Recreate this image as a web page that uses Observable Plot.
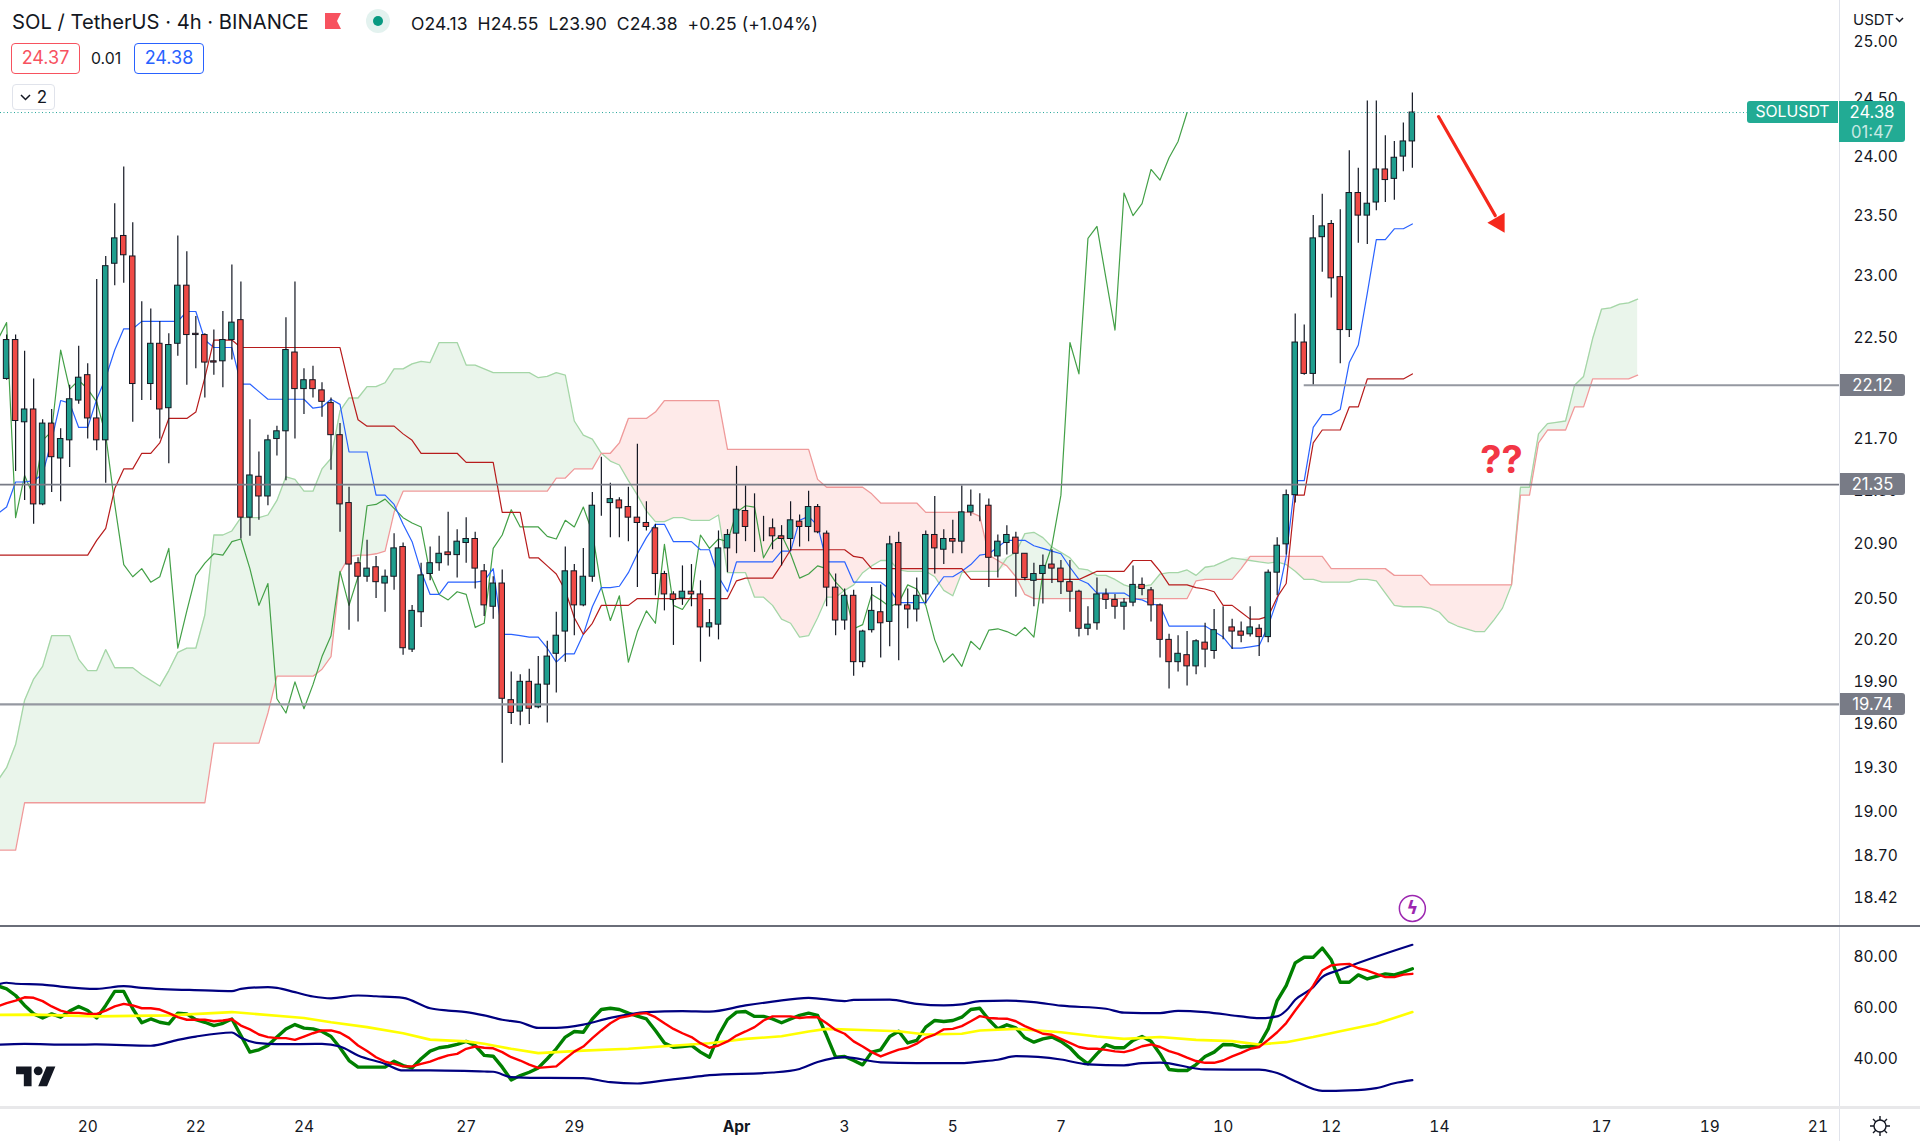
<!DOCTYPE html>
<html><head><meta charset="utf-8">
<script src="https://cdn.jsdelivr.net/npm/d3@7"></script>
<script src="https://cdn.jsdelivr.net/npm/@observablehq/plot@0.6"></script>
<style>
html,body{margin:0;padding:0;background:#fff}
#wrap{position:relative;width:1920px;height:1141px;overflow:hidden;background:#fff;font-family:Inter,Roboto,sans-serif;color:#131722}
#wrap svg.plot{position:absolute;left:0}
.h{position:absolute;white-space:nowrap}
.tag{position:absolute;left:1840px;width:65px;height:22px;line-height:22px;background:#787b86;color:#fff;text-align:center;font-size:16.6px;border-radius:0 3px 3px 0}
.box{position:absolute;box-sizing:border-box;border:1.5px solid;border-radius:4px;text-align:center;font-size:18px;background:#fff}
</style></head><body><div id="wrap"></div>
<script>
// 4h candles, bar 0 = 18 Mar 12:00 UTC
const opens=[22.17,22.48,21.83,21.93,21.20,21.82,21.55,21.69,22.00,22.20,
21.86,21.69,23.10,23.33,23.16,22.13,22.13,22.45,21.94,22.45,
22.92,22.53,22.52,22.31,22.31,22.48,22.64,21.10,21.41,21.26,
21.70,21.76,22.38,22.09,22.16,22.08,21.98,21.73,21.21,20.76,
20.66,20.73,20.61,20.66,20.88,20.13,20.40,20.68,20.76,20.84,
20.82,20.91,20.94,20.70,20.44,20.61,19.77,19.69,19.90,19.72,
19.88,20.10,20.26,20.70,20.45,20.66,21.20,21.21,21.23,21.18,
21.10,21.06,21.02,20.68,20.53,20.50,20.55,20.53,20.29,20.31,
20.87,20.98,21.15,21.03,21.03,21.02,20.96,20.94,21.07,21.03,
21.18,20.98,20.58,20.34,20.52,20.04,20.27,20.40,20.33,20.91,
20.45,20.42,20.53,20.97,20.86,20.94,20.92,21.14,21.18,21.19,
20.81,20.91,20.95,20.83,20.63,20.68,20.75,20.72,20.62,20.55,
20.28,20.32,20.53,20.49,20.44,20.47,20.60,20.56,20.45,20.20,
20.04,20.09,20.01,20.18,20.12,20.28,20.29,20.26,20.24,20.28,
20.22,20.69,20.90,21.27,22.46,22.21,23.32,23.43,22.99,22.56,
23.69,23.50,23.61,23.89,23.81,24.00,24.13];
const highs=[22.52,22.52,22.39,22.17,21.85,21.93,21.78,22.12,22.43,22.29,
22.97,23.16,23.60,23.91,23.44,22.79,22.73,22.63,22.53,23.33,
23.20,22.67,22.53,22.56,22.71,23.09,22.95,21.85,21.60,21.73,
21.80,22.66,22.95,22.25,22.27,22.14,22.02,21.82,21.33,20.80,
20.93,20.81,20.71,20.98,20.91,20.45,20.76,20.88,20.96,21.14,
21.01,21.10,20.99,20.75,20.66,20.71,19.97,19.95,19.99,20.08,
20.19,20.40,20.88,20.75,20.87,21.29,21.56,21.36,21.25,21.33,
21.66,21.22,21.05,20.70,20.55,20.74,20.75,20.63,20.42,21.00,
21.01,21.49,21.34,21.28,21.11,21.09,21.04,21.22,21.12,21.30,
21.20,21.00,20.68,20.57,20.56,20.27,20.58,20.60,20.96,20.99,
20.57,20.65,21.00,21.26,21.01,21.08,21.34,21.31,21.28,21.24,
20.97,21.04,20.99,20.83,20.76,20.82,20.86,20.78,20.78,20.56,
20.44,20.65,20.57,20.53,20.50,20.74,20.65,20.58,20.46,20.24,
20.23,20.26,20.20,20.32,20.42,20.44,20.35,20.33,20.44,20.31,
20.71,20.95,21.31,22.69,22.60,23.50,23.68,23.46,23.55,24.05,
23.90,24.48,24.48,24.18,24.13,24.29,24.55];
const lows=[22.16,21.45,21.23,21.05,21.19,21.29,21.22,21.48,21.97,21.70,
21.61,21.36,22.92,22.94,21.83,22.00,22.00,21.70,21.51,22.35,
22.12,22.25,22.02,22.20,22.10,22.32,20.94,20.96,21.08,21.19,
21.57,21.38,21.70,21.89,22.02,21.87,21.46,20.99,20.27,20.33,
20.62,20.50,20.40,20.56,20.09,20.11,20.29,20.63,20.70,20.74,
20.65,20.76,20.57,20.37,20.35,19.33,19.60,19.59,19.60,19.71,
19.61,19.82,20.04,20.23,20.44,20.62,21.11,20.95,20.95,20.92,
20.58,21.00,20.52,20.41,20.16,20.45,20.44,20.04,20.22,20.20,
20.69,20.83,20.92,20.84,20.92,20.86,20.74,20.85,20.88,20.92,
20.98,20.44,20.23,20.27,19.94,20.00,20.25,20.07,20.15,20.05,
20.28,20.33,20.46,20.68,20.75,20.83,20.83,21.11,21.07,20.58,
20.65,20.82,20.51,20.63,20.44,20.46,20.61,20.53,20.40,20.22,
20.23,20.27,20.42,20.35,20.27,20.44,20.52,20.33,20.07,19.85,
19.97,19.87,19.95,20.00,20.06,20.20,20.13,20.18,20.22,20.08,
20.18,20.52,20.82,21.21,22.20,22.12,23.03,22.82,22.29,22.50,
23.27,23.26,23.54,23.61,23.63,23.87,23.90];
const closes=[22.48,21.84,21.93,21.20,21.82,21.56,21.70,22.01,22.18,21.86,
21.69,23.08,23.31,23.17,22.13,22.13,22.45,21.93,22.44,22.92,
22.52,22.52,22.30,22.30,22.48,22.62,21.10,21.42,21.26,21.69,
21.76,22.40,22.09,22.16,22.09,21.99,21.73,21.20,20.75,20.66,
20.72,20.62,20.66,20.87,20.14,20.41,20.67,20.76,20.83,20.82,
20.92,20.94,20.72,20.45,20.61,19.78,19.68,19.90,19.71,19.88,
20.08,20.23,20.70,20.45,20.66,21.19,21.20,21.24,21.17,21.10,
21.06,21.03,20.68,20.53,20.49,20.55,20.53,20.29,20.32,20.87,
20.97,21.16,21.03,21.03,21.03,20.96,20.94,21.08,21.03,21.18,
20.99,20.58,20.34,20.52,20.04,20.26,20.41,20.32,20.90,20.45,
20.42,20.52,20.97,20.87,20.94,20.92,21.14,21.19,21.18,20.80,
20.92,20.97,20.83,20.65,20.68,20.74,20.72,20.62,20.55,20.28,
20.31,20.53,20.49,20.44,20.47,20.60,20.57,20.45,20.20,20.04,
20.10,20.01,20.19,20.13,20.27,20.28,20.26,20.23,20.29,20.22,
20.69,20.89,21.27,22.46,22.21,23.31,23.41,22.98,22.56,23.69,
23.50,23.60,23.89,23.80,23.99,24.13,24.38];

// Ichimoku: every series starts at bar -1 (just off the left edge)
const conversion=[21.13,
21.18,21.37,21.37,21.38,21.43,21.69,22.00,21.98,21.79,21.79,
22.01,22.18,22.40,22.57,22.57,22.63,22.63,22.63,22.63,22.63,
22.71,22.71,22.48,22.42,22.42,22.42,22.13,22.13,22.07,22.01,
22.01,22.01,22.01,22.01,21.94,21.95,22.01,21.97,21.60,21.60,
21.60,21.27,21.27,21.20,21.05,20.92,20.70,20.53,20.53,20.62,
20.62,20.62,20.62,20.63,20.72,20.24,20.24,20.23,20.22,20.22,
20.14,20.04,20.10,20.10,20.24,20.44,20.58,20.58,20.59,20.69,
20.83,20.95,21.05,21.05,20.92,20.92,20.92,20.86,20.86,20.66,
20.55,20.77,20.77,20.77,20.77,20.77,20.85,20.85,21.08,21.11,
21.04,20.77,20.77,20.77,20.62,20.62,20.62,20.62,20.57,20.47,
20.47,20.47,20.47,20.57,20.66,20.66,20.70,20.75,20.82,20.83,
20.88,20.93,20.93,20.93,20.89,20.87,20.85,20.83,20.73,20.64,
20.61,20.54,20.54,20.54,20.54,20.50,20.49,20.46,20.45,20.30,
20.30,20.30,20.30,20.30,20.26,20.22,20.14,20.14,20.15,20.16,
20.30,20.49,20.81,21.38,21.38,21.79,21.89,21.89,21.93,22.30,
22.44,22.86,23.30,23.30,23.39,23.39,23.43];
const base=[20.82,
20.82,20.82,20.82,20.82,20.82,20.82,20.82,20.82,20.82,20.82,
20.93,21.02,21.32,21.47,21.47,21.59,21.59,21.67,21.86,21.86,
21.86,21.91,22.18,22.48,22.48,22.48,22.42,22.42,22.42,22.42,
22.42,22.42,22.42,22.42,22.42,22.42,22.42,22.42,22.12,21.85,
21.80,21.80,21.80,21.80,21.74,21.69,21.59,21.59,21.59,21.59,
21.59,21.52,21.52,21.52,21.52,21.14,21.14,21.14,20.80,20.80,
20.74,20.68,20.56,20.36,20.24,20.32,20.45,20.45,20.45,20.45,
20.50,20.50,20.50,20.50,20.50,20.50,20.50,20.50,20.50,20.50,
20.50,20.63,20.65,20.65,20.65,20.65,20.75,20.86,20.86,20.86,
20.86,20.86,20.86,20.86,20.81,20.80,20.72,20.72,20.72,20.72,
20.72,20.72,20.72,20.72,20.72,20.72,20.72,20.64,20.64,20.64,
20.64,20.64,20.64,20.64,20.64,20.64,20.64,20.64,20.64,20.64,
20.67,20.70,20.70,20.70,20.70,20.78,20.78,20.78,20.70,20.60,
20.60,20.60,20.58,20.57,20.55,20.45,20.45,20.40,20.35,20.35,
20.37,20.51,20.61,21.27,21.27,21.67,21.77,21.77,21.77,21.95,
21.95,22.17,22.17,22.17,22.17,22.17,22.21];
const lagging=[22.48,
22.62,21.10,21.42,21.26,21.69,21.76,22.40,22.09,22.16,22.09,
21.99,21.73,21.20,20.75,20.66,20.72,20.62,20.66,20.87,20.14,
20.41,20.67,20.76,20.83,20.82,20.92,20.94,20.72,20.45,20.61,
19.78,19.68,19.90,19.71,19.88,20.08,20.23,20.70,20.45,20.66,
21.19,21.20,21.24,21.17,21.10,21.06,21.03,20.68,20.53,20.49,
20.55,20.53,20.29,20.32,20.87,20.97,21.16,21.03,21.03,21.03,
20.96,20.94,21.08,21.03,21.18,20.99,20.58,20.34,20.52,20.04,
20.26,20.41,20.32,20.90,20.45,20.42,20.52,20.97,20.87,20.94,
20.92,21.14,21.19,21.18,20.80,20.92,20.97,20.83,20.65,20.68,
20.74,20.72,20.62,20.55,20.28,20.31,20.53,20.49,20.44,20.47,
20.60,20.57,20.45,20.20,20.04,20.10,20.01,20.19,20.13,20.27,
20.28,20.26,20.23,20.29,20.22,20.69,20.89,21.27,22.46,22.21,
23.31,23.41,22.98,22.56,23.69,23.50,23.60,23.89,23.80,23.99,
24.13,24.38];
const spanA=[19.21,
19.30,19.46,19.77,19.92,20.01,20.23,20.23,20.23,20.06,19.98,
19.98,20.13,20.00,20.00,20.00,19.95,19.91,19.87,19.98,20.11,
20.14,20.14,20.38,20.97,20.97,21.00,21.10,21.10,21.10,21.12,
21.23,21.41,21.39,21.30,21.30,21.47,21.55,21.92,22.02,22.02,
22.11,22.11,22.14,22.25,22.25,22.29,22.31,22.30,22.46,22.46,
22.46,22.28,22.28,22.25,22.22,22.22,22.22,22.22,22.22,22.18,
22.19,22.22,22.20,21.84,21.73,21.70,21.59,21.53,21.50,21.38,
21.27,21.15,21.07,21.07,21.10,21.10,21.08,21.08,21.08,21.12,
20.69,20.69,20.69,20.51,20.51,20.45,20.35,20.32,20.22,20.23,
20.36,20.51,20.51,20.56,20.60,20.69,20.74,20.78,20.78,20.71,
20.70,20.70,20.70,20.66,20.56,20.52,20.69,20.70,20.70,20.70,
20.70,20.80,20.84,20.98,20.99,20.95,20.88,20.84,20.80,20.72,
20.71,20.67,20.67,20.64,20.60,20.58,20.59,20.60,20.68,20.69,
20.69,20.71,20.67,20.73,20.74,20.77,20.80,20.79,20.78,20.77,
20.76,20.77,20.75,20.70,20.64,20.64,20.62,20.62,20.62,20.62,
20.64,20.64,20.63,20.54,20.45,20.44,20.44,20.44,20.43,20.40,
20.33,20.30,20.28,20.26,20.26,20.34,20.43,20.60,21.33,21.33,
21.74,21.82,21.83,21.84,22.12,22.19,22.49,22.73,22.74,22.77,
22.78,22.81];
const spanB=[18.74,
18.74,18.74,19.06,19.06,19.06,19.06,19.06,19.06,19.06,19.06,
19.06,19.06,19.06,19.06,19.06,19.06,19.06,19.06,19.06,19.06,
19.06,19.06,19.06,19.47,19.47,19.47,19.47,19.47,19.47,19.68,
19.94,19.94,19.94,19.94,19.94,19.99,20.08,20.69,20.81,20.82,
20.82,20.83,20.85,21.14,21.30,21.30,21.30,21.30,21.30,21.30,
21.30,21.30,21.30,21.30,21.30,21.30,21.30,21.30,21.30,21.30,
21.30,21.40,21.40,21.47,21.47,21.47,21.59,21.59,21.67,21.86,
21.86,21.86,21.91,22.00,22.00,22.00,22.00,22.00,22.00,22.00,
21.62,21.62,21.62,21.62,21.62,21.62,21.62,21.62,21.62,21.62,
21.39,21.33,21.33,21.33,21.33,21.33,21.28,21.21,21.21,21.21,
21.21,21.21,21.14,21.14,21.14,21.14,21.14,21.14,21.11,20.82,
20.78,20.74,20.66,20.53,20.50,20.50,20.50,20.50,20.50,20.50,
20.50,20.50,20.50,20.50,20.50,20.50,20.50,20.50,20.50,20.50,
20.50,20.50,20.63,20.64,20.64,20.64,20.64,20.72,20.81,20.81,
20.81,20.81,20.81,20.81,20.81,20.81,20.81,20.72,20.72,20.72,
20.72,20.72,20.72,20.72,20.67,20.67,20.67,20.67,20.60,20.60,
20.60,20.60,20.60,20.60,20.60,20.60,20.60,20.60,21.27,21.27,
21.67,21.77,21.77,21.77,21.95,21.95,22.17,22.17,22.17,22.17,
22.17,22.20];

// Oscillator lines (start at bar -1)
const rsiLine=[68.9,
67.7,65.1,61.2,57.9,56.3,57.9,56.6,59.0,60.8,59.2,
56.3,61.2,66.7,66.7,59.9,54.4,55.9,54.6,54.0,58.2,
57.9,55.6,54.6,53.3,54.2,55.9,49.4,42.9,43.8,45.5,
48.8,52.0,53.7,52.3,52.0,51.0,49.0,44.6,39.6,37.0,
37.0,37.0,37.0,39.3,37.6,36.7,40.3,43.3,44.6,45.1,
45.9,47.1,45.5,41.6,41.3,37.0,32.0,33.7,35.0,36.7,
40.3,44.2,48.8,51.0,50.7,55.9,59.6,60.1,59.6,58.2,
57.0,55.9,51.4,46.5,44.8,45.1,45.5,42.9,40.9,49.4,
55.7,58.6,58.8,56.9,56.9,55.9,54.4,55.9,57.3,58.2,
57.3,49.4,40.9,41.2,39.6,37.9,42.9,43.8,49.0,51.1,
46.5,47.5,52.7,55.3,54.9,55.3,56.6,59.6,60.1,55.6,
52.0,53.6,52.4,48.5,46.8,48.1,48.8,47.1,44.6,40.9,
38.3,42.2,45.8,44.6,44.6,47.5,49.0,47.2,42.2,36.1,
35.7,35.7,38.0,41.2,42.9,45.9,45.8,44.9,45.2,45.8,
52.0,63.1,69.0,77.9,80.1,80.1,83.7,79.1,70.3,70.3,
73.2,71.6,72.6,73.6,73.2,74.3,75.6];
const signalLine=[60.8,
62.1,63.1,64.4,64.2,62.9,60.8,59.2,58.3,58.3,57.9,
57.9,59.2,60.8,61.8,61.2,60.1,60.1,59.6,58.2,56.6,
55.6,55.6,55.6,55.0,55.3,55.8,53.3,51.8,49.8,48.8,
48.4,48.4,47.7,49.0,50.3,51.4,51.4,50.5,48.5,45.5,
43.3,40.9,39.2,38.3,37.3,37.3,38.3,39.2,40.5,41.6,
42.2,44.2,45.1,44.6,44.4,42.9,40.9,39.6,38.0,36.7,
37.0,37.3,40.3,43.1,45.1,48.4,51.4,54.2,56.3,57.0,
57.9,58.2,56.6,54.2,52.0,50.3,48.8,46.4,44.6,45.5,
47.1,49.4,51.0,52.7,55.3,56.9,56.9,56.9,56.3,56.6,
56.6,54.2,51.6,50.1,47.1,45.1,42.9,41.2,42.6,43.9,
44.6,46.2,48.5,49.8,51.8,52.0,53.1,55.0,57.0,56.3,
56.1,56.0,55.0,53.1,51.6,50.1,49.7,48.1,46.5,44.9,
44.2,44.2,43.8,43.2,42.9,43.8,45.2,45.9,44.9,43.3,
42.2,40.7,39.4,38.7,38.7,39.6,41.2,42.6,44.2,44.9,
47.7,50.7,54.3,59.2,63.8,69.0,74.9,76.9,77.3,77.5,
75.8,74.9,73.6,72.3,72.3,73.3,73.6];
const midBar=[-1,3,10,18,25,33,36,40,44,47,51,53,54,56,59,64,69,73,78,82,86,89,91,95,99,102,106,108,112,117,121,124,128,132,136,139,142,145,148,152,156];
const midLine=[57.5,57.6,56.9,57.3,58.6,56.3,54.6,52.7,50.3,47.8,47.1,46.2,45.5,44.2,42.5,43.5,44.2,45.2,46.4,48.1,49.1,51.0,52.0,51.6,51.1,49.8,50.1,51.4,52.0,50.7,49.0,48.1,48.8,47.7,47.2,45.9,46.8,48.8,51.1,54.0,58.6];
const upperBar=[-1,0,1,4,6,10,13,15,22,25,26,29,30,32,34,36,39,41,44,47,49,51,53,55,57,59,61,64,67,71,75,78,82,85,89,93,94,98,101,104,106,108,111,114,117,122,124,128,130,133,137,139,141,142,143,145,146,148,156];
const upperBand=[69.4,70.1,69.7,69.4,68.6,67.7,68.8,68.1,67.1,66.8,67.7,68.4,68.1,66.4,64.7,64.0,65.1,64.8,64.2,60.1,59.2,58.6,57.3,55.6,54.6,52.4,52.4,53.7,56.3,58.6,59.0,58.8,61.2,62.7,64.2,62.9,63.4,63.5,61.8,61.2,61.6,62.9,63.1,62.5,61.1,59.9,58.4,58.2,59.1,58.6,56.9,56.2,56.9,59.2,63.4,68.4,72.3,75.2,85.0];
const lowerBar=[-1,2,7,10,16,19,21,25,26,28,30,35,37,39,42,44,47,53,54,56,59,64,67,70,73,76,78,85,88,90,93,97,101,106,108,110,112,117,120,124,126,128,133,139,141,143,146,149,152,154,156];
const lowerBand=[45.8,46.1,45.8,45.9,45.4,47.7,49.0,50.6,48.5,46.4,46.0,46.1,45.1,41.6,38.3,35.7,35.7,35.3,35.2,33.1,32.8,32.7,31.1,30.6,31.8,33.0,33.9,34.9,36.3,39.0,40.9,38.9,38.6,38.6,39.2,39.9,41.3,40.0,38.1,37.7,38.6,38.8,36.1,36.0,34.7,31.5,27.7,27.9,28.8,30.7,31.9];

// Axes and annotations
const priceTicks=[25,24.5,24,23.5,23,22.5,21.7,21.3,20.9,20.5,20.2,19.9,19.6,19.3,19,18.7,18.42];
const oscTicks=[80,60,40];
const dayTicks=[[2,20],[2,22],[2,24],[2,27],[2,29],[3,3],[3,5],[3,7],[3,10],[3,12],[3,14],[3,17],[3,19],[3,21]];
const monthTick=[3,1];
const levels=[{price:22.12,fromBar:144,color:"#9598a1",w:2},{price:21.35,fromBar:-1,color:"#787b86",w:1.6},{price:19.74,fromBar:-1,color:"#9598a1",w:2.2}];
const lastPrice=24.38;

const barTime=i=>new Date(Date.UTC(2023,2,18,12)+i*4*3600e3);
const xDomain=[barTime(-0.677),barTime(203.4)];
const candles=opens.map((o,i)=>({t:barTime(i),t0:barTime(i-0.305),t1:barTime(i+0.305),o,h:highs[i],l:lows[i],c:closes[i]}));
const series=a=>a.map((v,k)=>({t:barTime(k-1),v}));
const sparse=(b,a)=>a.map((v,k)=>({t:barTime(b[k]),v}));
const cloud=spanA.map((a,k)=>({t:barTime(k-1),a,b:spanB[k],hi:Math.max(a,spanB[k]),lo:Math.min(a,spanB[k])}));
const ink="#131722",up="#1f9e8e",down="#ef4a46";
const isUp=d=>d.c>=d.o;
const isDown=d=>d.c<d.o;

const price=Plot.plot({
  width:1920,height:926,marginTop:0,marginBottom:0,marginLeft:0,marginRight:81,
  style:{fontFamily:"Inter, Roboto, sans-serif",fontSize:"15.5px",background:"transparent"},
  x:{type:"utc",domain:xDomain,axis:null},
  y:{type:"log",domain:[18.237,25.374],axis:null},
  marks:[
    Plot.axisY(priceTicks,{anchor:"right",tickSize:0,tickPadding:14,tickFormat:d3.format(".2f"),label:null,fill:ink}),
    Plot.areaY(cloud,{x:"t",y1:"b",y2:"hi",fill:"#43a047",fillOpacity:0.11,clip:true}),
    Plot.areaY(cloud,{x:"t",y1:"b",y2:"lo",fill:"#f44336",fillOpacity:0.11,clip:true}),
    Plot.line(series(spanA),{x:"t",y:"v",stroke:"#a5d6a7",strokeWidth:1.3,clip:true}),
    Plot.line(series(spanB),{x:"t",y:"v",stroke:"#ef9a9a",strokeWidth:1.3,clip:true}),
    Plot.line(series(lagging),{x:"t",y:"v",stroke:"#43a047",strokeWidth:1.2,clip:true}),
    Plot.line(series(conversion),{x:"t",y:"v",stroke:"#2962ff",strokeWidth:1.2,clip:true}),
    Plot.line(series(base),{x:"t",y:"v",stroke:"#b71c1c",strokeWidth:1.2,clip:true}),
    Plot.ruleX(candles,{x:"t",y1:"l",y2:"h",stroke:ink,strokeWidth:1.2}),
    Plot.rect(candles.filter(isUp),{x1:"t0",x2:"t1",y1:"o",y2:"c",fill:up,stroke:ink,strokeWidth:1}),
    Plot.rect(candles.filter(isDown),{x1:"t0",x2:"t1",y1:"o",y2:"c",fill:down,stroke:ink,strokeWidth:1}),
    Plot.ruleY(levels,{y:"price",x1:d=>barTime(d.fromBar),x2:()=>xDomain[1],stroke:"color",strokeWidth:"w",clip:true}),
    Plot.ruleY([lastPrice],{x1:()=>xDomain[0],x2:()=>barTime(193.2),stroke:"#26a69a",strokeWidth:1,strokeDasharray:"1,2.5"}),
    Plot.line([{b:158.9,p:24.345},{b:165.2,p:23.5}],{x:d=>barTime(d.b),y:"p",stroke:"#f5281c",strokeWidth:3.2}),
    Plot.dot([{b:165.6,p:23.44}],{x:d=>barTime(d.b),y:"p",symbol:"triangle",r:7.4,rotate:150,fill:"#f5281c"}),
    Plot.text(["??"],{x:()=>barTime(165.9),y:()=>21.53,fill:"#f23645",fontSize:38,fontWeight:700}),
    Plot.dot([0],{x:()=>barTime(156),y:()=>18.355,r:13,fill:"#fff",stroke:"#9c27b0",strokeWidth:1.5}),
    Plot.text(["ϟ"],{x:()=>barTime(156),y:()=>18.355,fill:"#9c27b0",fontSize:18,fontWeight:700,fontFamily:"DejaVu Sans"})
  ]
});
price.style.top="0";

const osc=Plot.plot({
  width:1920,height:215,marginTop:0,marginBottom:34,marginLeft:0,marginRight:81,
  style:{fontFamily:"Inter, Roboto, sans-serif",fontSize:"15.5px",background:"transparent"},
  x:{type:"utc",domain:xDomain,axis:null},
  y:{domain:[21.18,92.16],axis:null},
  marks:[
    Plot.axisY(oscTicks,{anchor:"right",tickSize:0,tickPadding:14,tickFormat:d3.format(".2f"),label:null,fill:ink}),
    Plot.axisX(dayTicks.map(([m,d])=>new Date(Date.UTC(2023,m,d))),{anchor:"bottom",tickSize:0,tickPadding:13,tickFormat:d=>String(d.getUTCDate()),label:null,fill:ink}),
    Plot.axisX([new Date(Date.UTC(2023,monthTick[0],monthTick[1]))],{anchor:"bottom",tickSize:0,tickPadding:13,tickFormat:()=>"Apr",label:null,fill:ink,fontWeight:700}),
    Plot.line(series(rsiLine),{x:"t",y:"v",stroke:"#008000",strokeWidth:3.4,clip:true}),
    Plot.line(sparse(midBar,midLine),{x:"t",y:"v",stroke:"#ffff00",strokeWidth:2.6,clip:true}),
    Plot.line(sparse(upperBar,upperBand),{x:"t",y:"v",stroke:"#000080",strokeWidth:2.2,curve:"monotone-x",clip:true}),
    Plot.line(sparse(lowerBar,lowerBand),{x:"t",y:"v",stroke:"#000080",strokeWidth:2.2,curve:"monotone-x",clip:true}),
    Plot.line(series(signalLine),{x:"t",y:"v",stroke:"#ff0000",strokeWidth:2.4,clip:true})
  ]
});
osc.style.top="926px";

const wrap=document.getElementById("wrap");
wrap.append(price,osc);
const add=(html)=>{const t=document.createElement("template");t.innerHTML=html.trim();wrap.append(t.content.firstChild)};
const py=v=>price.scale("y").apply(v);

// pane dividers
add('<div class="h" style="left:1839px;top:0;width:1px;height:1141px;background:#e0e3eb"></div>');
add('<div class="h" style="left:0;top:925px;width:1920px;height:2px;background:#6a6d78"></div>');
add('<div class="h" style="left:0;top:1106px;width:1920px;height:2.5px;background:#e8e8ea"></div>');

// axis tags
levels.forEach(l=>{add(`<div class="tag" style="top:${py(l.price)-11}px">${l.price.toFixed(2)}</div>`)});
add(`<div class="h" style="left:1747px;top:101px;width:91px;height:22px;line-height:22px;background:#22ab94;color:#fff;text-align:center;font-size:15.8px;border-radius:3px 0 0 3px">SOLUSDT</div>`);
add(`<div class="h" style="left:1839px;top:101px;width:66px;height:41px;background:#22ab94;color:#fff;text-align:center;font-size:16.6px;line-height:20px;padding-top:1px;box-sizing:border-box;border-radius:0 3px 3px 0">${lastPrice.toFixed(2)}<br><span style="opacity:.75">01:47</span></div>`);
add('<div class="h" style="left:1853px;top:10px;font-size:15px">USDT <svg width="9" height="6" style="vertical-align:2px;margin-left:-3px"><path d="M1 1l3.5 3.5L8 1" fill="none" stroke="#131722" stroke-width="1.5"/></svg></div>');

// header
add('<div class="h" style="left:12px;top:10px;font-size:20.2px;line-height:24px">SOL / TetherUS · 4h · BINANCE</div>');
add('<svg class="h" style="left:325px;top:13px" width="17" height="17"><path d="M0 0H16L12 8L16 16H0Z" fill="#f7525f"/></svg>');
add('<svg class="h" style="left:366px;top:9px" width="24" height="24"><circle cx="12" cy="12" r="12" fill="#e3f2ef"/><circle cx="12" cy="12" r="5" fill="#089981"/></svg>');
add('<div class="h" style="left:411px;top:13px;font-size:17.5px;line-height:22px;letter-spacing:.1px">O24.13&nbsp; H24.55&nbsp; L23.90&nbsp; C24.38&nbsp; +0.25 (+1.04%)</div>');
add('<div class="box" style="left:11px;top:43px;width:69px;height:31px;line-height:28px;color:#f7525f;border-color:#f7525f">24.37</div>');
add('<div class="h" style="left:91px;top:48px;font-size:15.8px;line-height:22px">0.01</div>');
add('<div class="box" style="left:134px;top:43px;width:70px;height:31px;line-height:28px;color:#2962ff;border-color:#2962ff">24.38</div>');
add('<div class="box" style="left:12px;top:84px;width:43px;height:26px;line-height:24px;font-size:17px;border-color:#e0e3eb"><svg width="11" height="7" style="vertical-align:2px;margin-right:6px"><path d="M1 1l4.5 4.5L10 1" fill="none" stroke="#131722" stroke-width="1.5"/></svg>2</div>');

// TradingView mark and scale-settings icon
add('<svg class="h" style="left:16px;top:1062px" width="40" height="31" viewBox="0 0 36 28"><path d="M14 22H7V11H0V4h14v18zM28 22h-8l7.5-18h8L28 22z" fill="#131722"/><circle cx="20" cy="8" r="4" fill="#131722"/></svg>');
add('<svg class="h" style="left:1868px;top:1114px" width="24" height="24" viewBox="0 0 24 24" fill="none" stroke="#131722" stroke-width="1.4"><circle cx="12" cy="12" r="6"/><path d="M12 2v4M12 18v4M2 12h4M18 12h4M5 5l3 3M16 16l3 3M5 19l3-3M16 8l3-3"/></svg>');
</script></body></html>
